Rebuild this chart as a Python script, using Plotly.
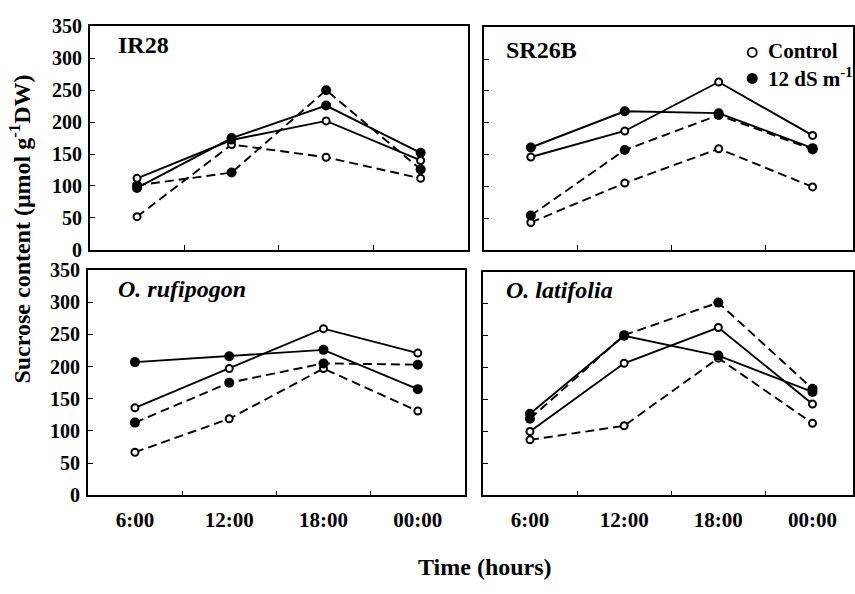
import plotly.graph_objects as go

# Sampling times (categorical x axis)
times = ["6:00", "12:00", "18:00", "00:00"]

# Sucrose content (umol g-1 DW) per genotype.
# Each genotype has two tissue series (solid / dashed lines), control and salt (12 dS m-1).
ir28_ctrl_solid = [112, 172, 202, 140]
ir28_salt_solid = [97, 175, 226, 152]
ir28_ctrl_dash = [52, 165, 145, 112]
ir28_salt_dash = [101, 121, 250, 126]

sr26b_ctrl_solid = [146, 187, 264, 180]
sr26b_salt_solid = [161, 218, 215, 160]
sr26b_ctrl_dash = [43, 105, 159, 99]
sr26b_salt_dash = [54, 157, 212, 158]

rufi_ctrl_solid = [136, 197, 259, 221]
rufi_salt_solid = [207, 216, 226, 165]
rufi_ctrl_dash = [67, 119, 197, 131]
rufi_salt_dash = [113, 175, 205, 203]

lati_ctrl_solid = [100, 207, 263, 143]
lati_salt_solid = [128, 250, 219, 162]
lati_ctrl_dash = [87, 109, 215, 113]
lati_salt_dash = [120, 251, 302, 167]

panel_names = ["IR28", "SR26B", "<i>O. rufipogon</i>", "<i>O. latifolia</i>"]
y_ticks = [0, 50, 100, 150, 200, 250, 300, 350]

W, H = 855, 594
FONT = "Liberation Serif, Times New Roman, serif"

def px_x(p):
    return p / W

def px_y(p):
    return 1 - p / H

# panel frames in pixel coordinates: (left, right, top, bottom)
frames = [
    (90, 469, 16, 248),
    (485, 855, 17, 248),
    (88, 466, 269, 503),
    (484, 855, 271, 503),
]

panels = [
    (ir28_ctrl_solid, ir28_salt_solid, ir28_ctrl_dash, ir28_salt_dash),
    (sr26b_ctrl_solid, sr26b_salt_solid, sr26b_ctrl_dash, sr26b_salt_dash),
    (rufi_ctrl_solid, rufi_salt_solid, rufi_ctrl_dash, rufi_salt_dash),
    (lati_ctrl_solid, lati_salt_solid, lati_ctrl_dash, lati_salt_dash),
]

fig = go.Figure()
layout = dict(
    width=W, height=H,
    margin=dict(l=0, r=0, t=0, b=0),
    paper_bgcolor="white", plot_bgcolor="white",
    showlegend=False,
    font=dict(family=FONT, color="black"),
)

open_marker = dict(symbol="circle", size=7, color="white", line=dict(color="black", width=2))
filled_marker = dict(symbol="circle", size=10, color="black", line=dict(color="black", width=0))

for i, (frame, series) in enumerate(zip(frames, panels)):
    n = "" if i == 0 else str(i + 1)
    xa, ya = "x" + n, "y" + n
    cs, ss, cd, sd = series
    # draw order: dashed first, then solid, filled on top of open
    for vals, dash, mk, nm in [
        (cd, "9px,5px", open_marker, "Control"),
        (sd, "9px,5px", filled_marker, "12 dS m-1"),
        (cs, "solid", open_marker, "Control"),
        (ss, "solid", filled_marker, "12 dS m-1"),
    ]:
        fig.add_trace(go.Scatter(
            x=times, y=vals, mode="lines+markers", name=nm,
            line=dict(color="black", width=1.9, dash=dash),
            marker=mk, xaxis=xa, yaxis=ya, cliponaxis=False,
        ))
    left, right, top, bottom = frame
    right_col = i in (1, 3)
    bottom_row = i in (2, 3)
    xr = [-0.5, 3.43] if right_col else [-0.5, 3.5]
    layout["xaxis" + n] = dict(
        domain=[px_x(left), px_x(right)], anchor=ya,
        type="category", categoryorder="array", categoryarray=times,
        range=xr, tickson="boundaries", ticks="inside", ticklen=5,
        tickcolor="black", showline=True, linecolor="black", linewidth=1.7,
        mirror=True, showgrid=False, zeroline=False,
        showticklabels=bottom_row, ticklabelstandoff=5,
        tickfont=dict(family=FONT, size=21, weight="bold", color="black"),
    )
    layout["yaxis" + n] = dict(
        domain=[px_y(bottom), px_y(top)], anchor=xa,
        range=[0, 350], tickvals=y_ticks, ticks="inside", ticklen=5,
        tickcolor="black", showline=True, linecolor="black", linewidth=1.7,
        mirror=True, showgrid=False, zeroline=False,
        showticklabels=not right_col, ticklabelstandoff=2,
        tickfont=dict(family=FONT, size=20, weight="bold", color="black"),
    )

fig.update_layout(**layout)

annotations = []
label_pos = [(116, 35), (505, 40), (116, 289), (505, 290)]
for name, (lx, ly) in zip(panel_names, label_pos):
    annotations.append(dict(
        text="<b>" + name + "</b>", x=px_x(lx), y=px_y(ly), xref="paper", yref="paper",
        xanchor="left", yanchor="middle", showarrow=False,
        font=dict(family=FONT, size=24, color="black"),
    ))

# legend entries
legend_items = [("Control", 42, "white"), ("12 dS m<sup>-1</sup>", 69, "black")]
for txt, ly, fill in legend_items:
    annotations.append(dict(
        text="<b>" + txt + "</b>", x=px_x(768), y=px_y(ly), xref="paper", yref="paper",
        xanchor="left", yanchor="middle", showarrow=False,
        font=dict(family=FONT, size=21, color="black"),
    ))
    r = 4.5 if fill == "white" else 5.5
    fig.add_shape(
        type="circle", xref="paper", yref="paper",
        xsizemode="pixel", ysizemode="pixel",
        xanchor=px_x(754), yanchor=px_y(ly + 1),
        x0=-r, x1=r, y0=-r, y1=r,
        fillcolor=fill, line=dict(color="black", width=1.8 if fill == "white" else 0),
    )

annotations.append(dict(
    text="<b>Sucrose content (μmol g<sup>-1</sup>DW)</b>", x=px_x(20), y=px_y(226),
    xref="paper", yref="paper", textangle=-90, showarrow=False,
    xanchor="center", yanchor="middle", font=dict(family=FONT, size=24, color="black"),
))
annotations.append(dict(
    text="<b>Time (hours)</b>", x=px_x(486), y=px_y(577),
    xref="paper", yref="paper", showarrow=False,
    xanchor="center", yanchor="middle", font=dict(family=FONT, size=24, color="black"),
))
fig.update_layout(annotations=annotations)

fig.write_html("out.html")
